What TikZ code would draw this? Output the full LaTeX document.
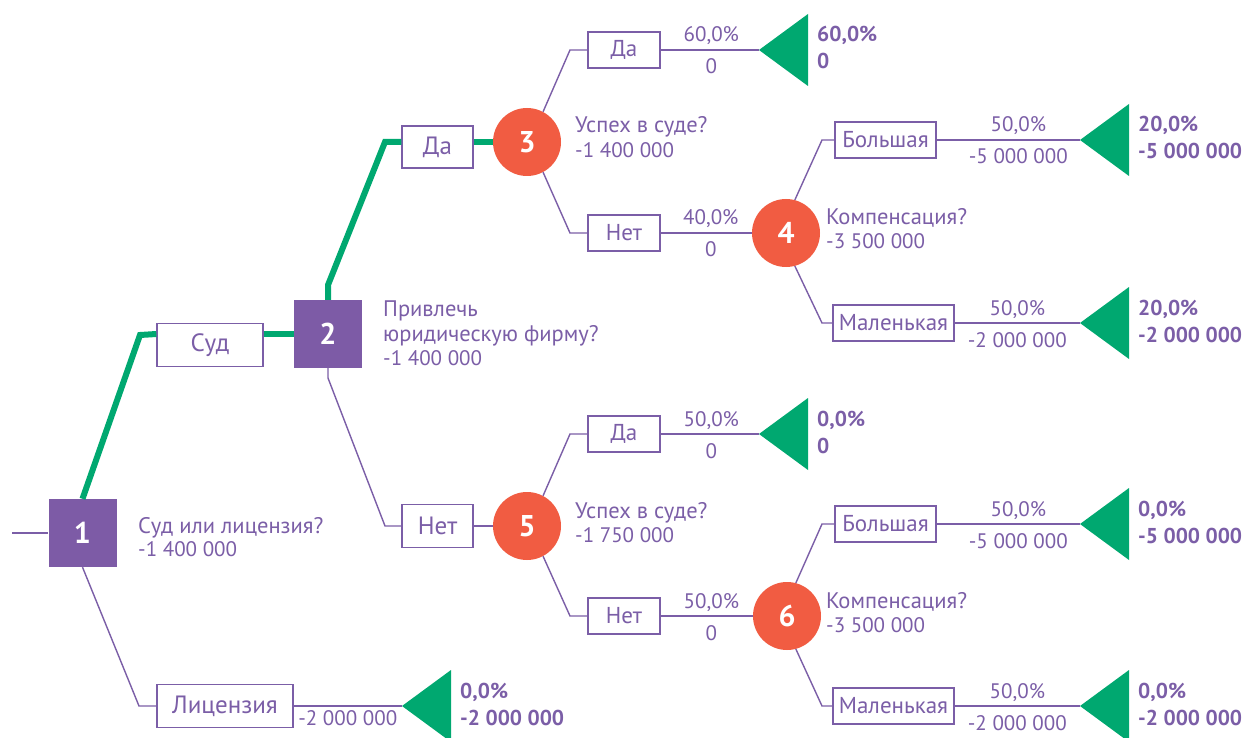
\documentclass[tikz,border=0pt]{standalone}
\usepackage{fontspec}
\setmainfont{PT Sans}
\definecolor{purp}{HTML}{7B5EA7}
\definecolor{sqc}{HTML}{7D5BA6}
\definecolor{orng}{HTML}{F15C42}
\definecolor{grn}{HTML}{00A870}
\tikzset{
  txt/.style={text=purp, font=\fontsize{22.5}{26}\selectfont, inner sep=0pt},
  ntxt/.style={text=purp, font=\fontsize{21}{25}\selectfont, inner sep=0pt},
  tbold/.style={text=purp, font=\bfseries\fontsize{21.5}{25}\selectfont, inner sep=0pt},
  dsq/.style={rectangle, fill=sqc, minimum size=68pt, inner sep=0pt, text=white, font=\bfseries\fontsize{30}{30}\selectfont},
  chc/.style={circle, fill=orng, minimum size=68pt, inner sep=0pt, text=white, font=\bfseries\fontsize{30}{30}\selectfont},
  obox/.style={draw=purp, line width=1.3pt, fill=white, text=purp, font=\fontsize{23}{26}\selectfont, inner sep=0pt, minimum height=36pt},
  bigbox/.style={obox, font=\fontsize{25}{28}\selectfont, minimum height=43pt},
  pline/.style={draw=purp, line width=1.4pt},
  gline/.style={draw=grn, line width=6pt},
}
\newcommand\TermNode[5]{%
  \coordinate (#1) at (#2,#3);
  \fill[grn] (#1) -- ++(49,-36) -- ++(0,72) -- cycle;
  \node[tbold, anchor=base west] (#1t) at ([shift={(58,-8)}]#1) {#4};
  \node[tbold, anchor=base west] (#1b) at ([shift={(58,19)}]#1) {#5};
}
% #1 name, #2 from, #3 to, #4 top label, #5 bottom label, #6 position along the line
\newcommand\BranchLine[6]{%
  \draw[pline] (#2) -- (#3)
    node[ntxt, pos=#6, anchor=base, yshift=8pt] (#1t) {#4}
    node[ntxt, pos=#6, anchor=base, yshift=-24pt] (#1b) {#5};
}
\begin{document}
\begin{tikzpicture}[x=1pt,y=-1pt]
\path[use as bounding box] (0,0) rectangle (1245,738);
\fill[white] (0,0) rectangle (1245,738);

% decision and chance nodes
\node[dsq] (n1) at (82.5,533) {1};
\node[dsq] (n2) at (328,334) {2};
\node[chc] (n3) at (527,142) {3};
\node[chc] (n4) at (786,233) {4};
\node[chc] (n5) at (527,526) {5};
\node[chc] (n6) at (787,616) {6};

% node texts
\node[txt, anchor=base west] (q1a) at (138,533) {Суд или лицензия?};
\node[ntxt, anchor=base west] (q1b) at (138,556) {-1 400 000};
\node[txt, anchor=base west] (q2a) at (383,316) {Привлечь};
\node[txt, anchor=base west] (q2b) at (383,341) {юридическую фирму?};
\node[ntxt, anchor=base west] (q2c) at (383,365) {-1 400 000};
\node[txt, anchor=base west] (q3a) at (575,133) {Успех в суде?};
\node[ntxt, anchor=base west] (q3b) at (575,158) {-1 400 000};
\node[txt, anchor=base west] (q4a) at (826,225) {Компенсация?};
\node[ntxt, anchor=base west] (q4b) at (826,249) {-3 500 000};
\node[txt, anchor=base west] (q5a) at (575,518) {Успех в суде?};
\node[ntxt, anchor=base west] (q5b) at (575,542) {-1 750 000};
\node[txt, anchor=base west] (q6a) at (826,608) {Компенсация?};
\node[ntxt, anchor=base west] (q6b) at (826,632) {-3 500 000};

% option boxes
\node[bigbox, minimum width=106pt] (sud) at (210,345) {Суд};
\node[bigbox, minimum width=136pt] (lic) at (225,706) {Лицензия};
\node[bigbox, minimum width=71pt, minimum height=42pt] (da1) at (437.5,147) {Да};
\node[bigbox, minimum width=71pt] (net1) at (437.5,526) {Нет};
\node[obox, minimum width=72pt] (da3) at (624,50) {Да};
\node[obox, minimum width=72pt] (net3) at (624,233) {Нет};
\node[obox, minimum width=101pt] (bol4) at (885.5,140) {Большая};
\node[obox, minimum width=121pt] (mal4) at (893.5,323) {Маленькая};
\node[obox, minimum width=72pt] (da5) at (624,434) {Да};
\node[obox, minimum width=72pt] (net5) at (624,616) {Нет};
\node[obox, minimum width=101pt] (bol6) at (885.5,524) {Большая};
\node[obox, minimum width=121pt] (mal6) at (893.5,706) {Маленькая};

% terminals
\TermNode{t3}{759}{50}{60,0\%}{0}
\TermNode{t4a}{1080}{140}{20,0\%}{-5 000 000}
\TermNode{t4b}{1080}{323}{20,0\%}{-2 000 000}
\TermNode{tl}{402}{706}{0,0\%}{-2 000 000}
\TermNode{t5}{759}{434}{0,0\%}{0}
\TermNode{t6a}{1080}{524}{0,0\%}{-5 000 000}
\TermNode{t6b}{1080}{706}{0,0\%}{-2 000 000}

% connectors
\coordinate (root) at (12,533);
\draw[pline] (root) -- (n1.west);
\draw[gline] (n1.north) -- (140,335) -- (sud.west |- n2.center);
\draw[gline] (sud.east |- n2.center) -- (n2.west);
\draw[pline] (n1.south) -- (139,706) -- (lic.west);
\draw[pline] (lic.east) -- (tl) node[ntxt, midway, anchor=base, yshift=-19pt] (llb) {-2 000 000};
\draw[gline] (n2.north) -- (328,285) -- (385,142) -- (da1.west |- n3.center);
\draw[gline] (da1.east |- n3.center) -- (n3.west);
\draw[pline] (n2.south) -- (328,378) -- (385,526) -- (net1.west);
\draw[pline] (net1.east) -- (n5.west);

\draw[pline] (n3.62) -- (570,50) -- (da3.west);
\draw[pline] (n3.-62) -- (570,233) -- (net3.west);
\BranchLine{b3a}{da3.east}{t3}{60,0\%}{0}{0.515}
\BranchLine{b3b}{net3.east}{n4.west}{40,0\%}{0}{0.55}
\draw[pline] (n4.75) -- (822,140) -- (bol4.west);
\draw[pline] (n4.-75) -- (822,323) -- (mal4.west);
\BranchLine{b4a}{bol4.east}{t4a}{50,0\%}{-5 000 000}{0.57}
\BranchLine{b4b}{mal4.east}{t4b}{50,0\%}{-2 000 000}{0.5}

\draw[pline] (n5.62) -- (570,434) -- (da5.west);
\draw[pline] (n5.-62) -- (570,616) -- (net5.west);
\BranchLine{b5a}{da5.east}{t5}{50,0\%}{0}{0.515}
\BranchLine{b5b}{net5.east}{n6.west}{50,0\%}{0}{0.55}
\draw[pline] (n6.75) -- (822,524) -- (bol6.west);
\draw[pline] (n6.-75) -- (822,706) -- (mal6.west);
\BranchLine{b6a}{bol6.east}{t6a}{50,0\%}{-5 000 000}{0.57}
\BranchLine{b6b}{mal6.east}{t6b}{50,0\%}{-2 000 000}{0.5}
\end{tikzpicture}
\end{document}
